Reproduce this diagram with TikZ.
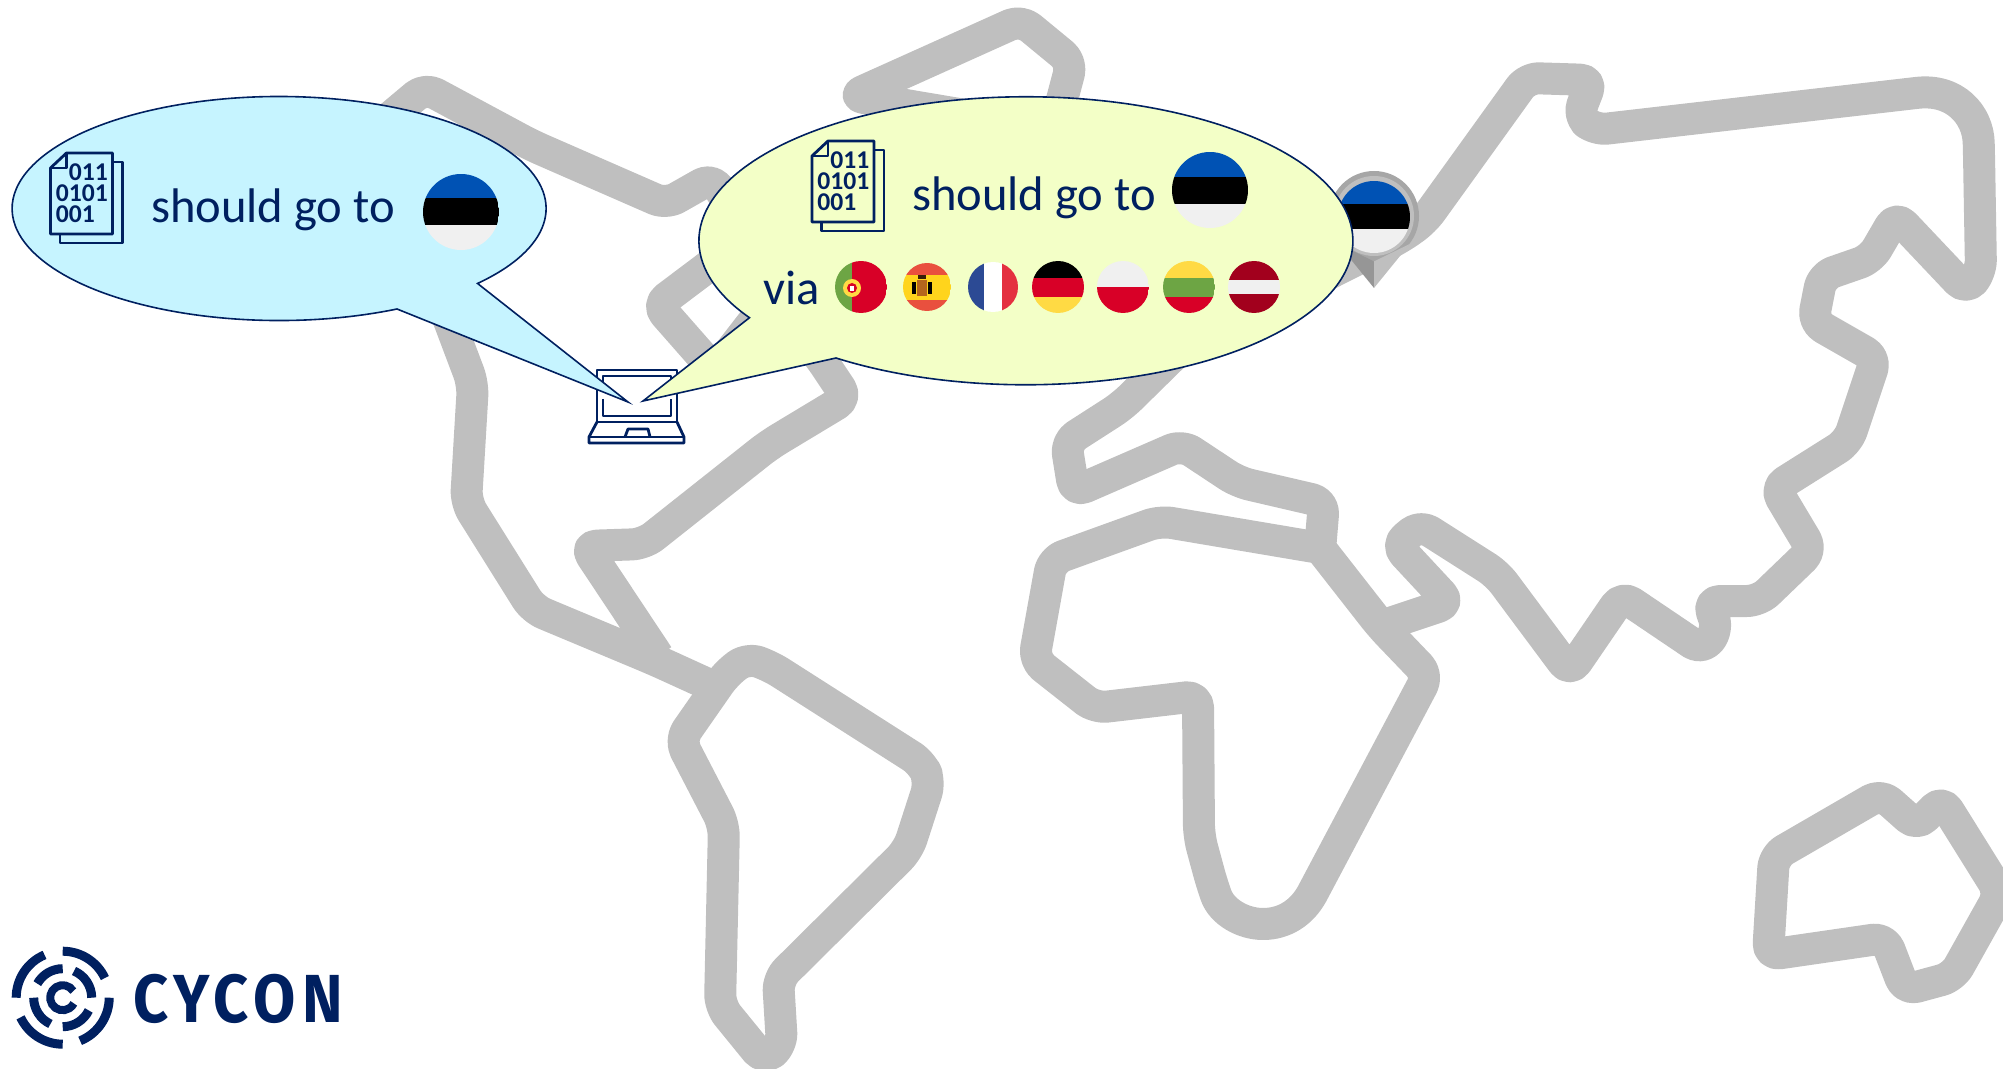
\documentclass[tikz,border=0pt]{standalone}
\usepackage{fontspec}
\usetikzlibrary{positioning}
\setmainfont{Carlito}
\newfontfamily\logofont[LetterSpace=9,FakeStretch=.9]{Fira Sans}
\definecolor{navy}{HTML}{002060}
\definecolor{landgray}{HTML}{BFBFBF}
\definecolor{skyfill}{HTML}{C6F4FF}
\definecolor{limefill}{HTML}{F3FFC7}
\definecolor{flagblue}{HTML}{0052B4}
\definecolor{flagwhite}{HTML}{F0F0F0}
\definecolor{flagred}{HTML}{D80027}
\definecolor{flagyellow}{HTML}{FFDA44}
\definecolor{flaggreen}{HTML}{6DA544}
\definecolor{darkred}{HTML}{A2001D}
\definecolor{spainred}{HTML}{E9503E}
\definecolor{spainyellow}{HTML}{FFD41C}
\definecolor{franceblue}{HTML}{2C4A94}
\definecolor{francered}{HTML}{E43040}
\definecolor{armsbrown}{HTML}{B5651D}
\newcommand{\bandflag}[9]{\node[flagdisc,minimum size=#4pt,path picture={
  \fill[#5] (-#4,-#4) rectangle (#4,#8-#3);
  \fill[#6] (-#4,#8-#3) rectangle (#4,#9-#3);
  \fill[#7] (-#4,#9-#3) rectangle (#4,#4);}] (#1) at (#2,#3) {};}
\newcommand{\columnflag}[9]{\node[flagdisc,minimum size=#4pt,path picture={
  \fill[#5] (-#4,-#4) rectangle (#8-#2,#4);
  \fill[#6] (#8-#2,-#4) rectangle (#9-#2,#4);
  \fill[#7] (#9-#2,-#4) rectangle (#4,#4);}] (#1) at (#2,#3) {};}
\tikzset{
  bits/.pic={
    \draw[icon line] (62,9) -- (72,9) -- (72,90) -- (9.5,90) -- (9.5,81);
    \draw[icon line] (0,15) -- (16,0) -- (62,0) -- (62,81) -- (0,81) -- cycle;
    \draw[icon line] (0,15) -- (16,15) -- (16,0);
    \node[bitrow,anchor=north west] (rows) at (5,10) {\hfill 011\\0101\\001};
  }
}
\begin{document}
\begin{tikzpicture}[
  x=.5pt,y=-.5pt,
  land/.style={draw=landgray,line width=16pt,line join=round,rounded corners=6pt},
  bubble/.style={draw=navy,line width=.8pt,line join=miter},
  saying/.style={text=navy,font=\fontsize{24.3}{28}\selectfont,inner sep=0pt},
  icon line/.style={draw=navy,line width=1.4pt,line join=round},
  bitrow/.style={text=navy,text width=26pt,align=left,font=\bfseries\fontsize{12.8}{10.7}\selectfont,inner sep=0pt},
  flagdisc/.style={circle,inner sep=0pt},
  pin disc/.style={circle,inner sep=0pt},
  arms part/.style={inner sep=0pt},
  laptop line/.style={draw=navy,line width=1.4pt,line join=round},
  ring/.style={draw=navy,line cap=butt}
]
\useasboundingbox (0,0) rectangle (2003,1069);
\clip (0,0) rectangle (2003,1069);
\draw[land] (712,686) -- (655,660) -- (533,609) -- (466,502) -- (473,384) -- (430,270) -- (375,130) -- (425,88) -- (531,145) -- (666,204) -- (712,178) -- (750,235) -- (657,305) -- (715,371) -- (770,300) -- (819,356) -- (847,398) -- (769,445) -- (644,544) -- (585,546) -- (658,656);
\draw[land] (852,96) -- (1021,20) -- (1072,62) -- (1054,130) -- cycle;
\draw[land] (680,740) -- (726,674) -- (747,658) -- (770,666) -- (922,763) -- (930,782) -- (908,850) -- (778,979) -- (782,1045) -- (764,1060) -- (720,1006) -- (724,825) -- cycle;
\draw[land] (1177,352) -- (1122,406) -- (1066,442) -- (1074,492) -- (1182,445) -- (1238,482) -- (1324,502) -- (1320,550);
\draw[land] (1320,548) -- (1160,521) -- (1052,560) -- (1034,660) -- (1095,708) -- (1198,696) -- (1199,836) -- (1212,884) [sharp corners] .. controls (1222,912) and (1243,924) .. (1263,924) .. controls (1285,924) and (1302,912) .. (1312,894) [rounded corners=6pt] -- (1428,675) -- (1381,626) -- (1320,548);
\draw[land] (1381,626) -- (1450,603) -- (1396,545) -- (1420,525) -- (1497,574) -- (1570,672) -- (1622,596) -- (1702,650) -- (1718,630) -- (1708,601) -- (1759,601) -- (1812,550) -- (1775,488) -- (1848,442) -- (1876,358) -- (1813,322) -- (1822,276) -- (1871,259) -- (1896,216) -- (1966,290) -- (1981,272) -- (1979,155) [sharp corners] .. controls (1978,115) and (1955,88) .. (1916,93) [rounded corners=6pt] -- (1595,130) -- (1578,116) -- (1592,80) -- (1527,78) -- (1424,221) -- (1400,238) -- (1340,268) -- (1177,352);
\draw[land] (1774,856) -- (1881,794) -- (1917,826) -- (1942,800) -- (2000,893) -- (1953,977) -- (1905,990) -- (1885,938) -- (1768,955) -- cycle;
\draw[laptop line] (597,422) -- (597,370) -- (677,370) -- (677,422) -- cycle;
\draw[laptop line] (603,385) -- (603,376) -- (671,376) -- (671,385);
\draw[laptop line] (603,399) -- (603,416) -- (671,416) -- (671,399);
\draw[laptop line] (597,422) -- (589,437) -- (589,443) -- (684,443) -- (684,437) -- (677,422);
\draw[laptop line] (589,437) -- (684,437);
\draw[laptop line] (625,437) -- (628,429) -- (648,429) -- (650,437);
\node[pin disc,fill=black!35,minimum size=45pt] (pinring) at (1374,216) {};
\fill[black!41] (1374,288) -- (pinring.218) -- (pinring.south) -- cycle;
\fill[landgray] (1374,288) -- (pinring.322) -- (pinring.south) -- cycle;
\node[pin disc,fill=landgray,minimum size=40pt] (pinface) at (pinring) {};
\bandflag{pinflag}{1374}{217}{36}{flagblue}{black}{flagwhite}{204}{229}
\draw[bubble,fill=skyfill] (397,309) arc[start angle=-63.8,end angle=-402,x radius=133.5pt,y radius=56pt] -- (628,402) -- cycle;
\draw[bubble,fill=limefill] (836,358) arc[start angle=-125.5,end angle=212.3,x radius=163.5pt,y radius=72pt] -- (643,401) -- cycle;
\pic (skydoc) at (50.5,153) {bits};
\pic (limedoc) at (812,141) {bits};
\node[saying,anchor=base] (skytext) at (273,223) {should go to};
\node[saying,anchor=base] (limetext) at (1034,211) {should go to};
\node[saying,anchor=base] (via) at (792,305) {via};
\bandflag{skyflag}{461}{212}{38}{flagblue}{black}{flagwhite}{198}{225}
\bandflag{limeflag}{1210}{190}{38}{flagblue}{black}{flagwhite}{177}{204}
\columnflag{portugal}{861}{287}{26}{flaggreen}{flagred}{flagred}{852}{852}
\node[pin disc,fill=flagyellow,minimum size=9pt] (crest) at (852,288) {};
\node[pin disc,fill=flagred,minimum size=5pt] (shield) at (crest) {};
\fill[white] (850,286) rectangle (854,291);
\bandflag{spain}{927}{287}{24}{spainred}{spainyellow}{spainred}{275}{300}
\node[arms part,fill=armsbrown,minimum width=5pt,minimum height=8pt] (arms) at (922,288) {};
\node[arms part,fill=black,minimum width=2pt,minimum height=6pt,left=0pt of arms] (armsleft) {};
\node[arms part,fill=black,minimum width=2pt,minimum height=6pt,right=0pt of arms] (armsright) {};
\node[arms part,fill=black!70!armsbrown,minimum width=4pt,minimum height=2pt,above=0pt of arms] (armscrown) {};
\columnflag{france}{993}{287}{25}{franceblue}{white}{francered}{984}{1002}
\bandflag{germany}{1058}{287}{26}{black}{flagred}{flagyellow}{278}{297}
\bandflag{poland}{1123}{287}{26}{flagwhite}{flagred}{flagred}{287}{287}
\bandflag{lithuania}{1189}{287}{26}{flagyellow}{flaggreen}{flagred}{278}{297}
\bandflag{latvia}{1254}{287}{26}{darkred}{flagwhite}{darkred}{280}{294}
\coordinate (logo) at (62.7,997.7);
\foreach \rad/\wid/\from/\to in {23.25/4.5/25/90,23.25/4.5/-68/0,23.25/4.5/-155/-90,23.25/4.5/113/180,14.5/4.5/0/67,14.5/4.5/-90/-26,14.5/4.5/-180/-115,14.5/4.5/90/151,6.25/4/32/333}
  \draw[ring,line width=\wid pt] ([shift=(\from:\rad pt)]logo) arc[start angle=\from,end angle=\to,radius=\rad pt];
\node[text=navy,font=\logofont\bfseries\fontsize{34}{36}\selectfont,anchor=base west,inner sep=0pt] (cycon) at (133,1022) {CYCON};
\end{tikzpicture}
\end{document}
